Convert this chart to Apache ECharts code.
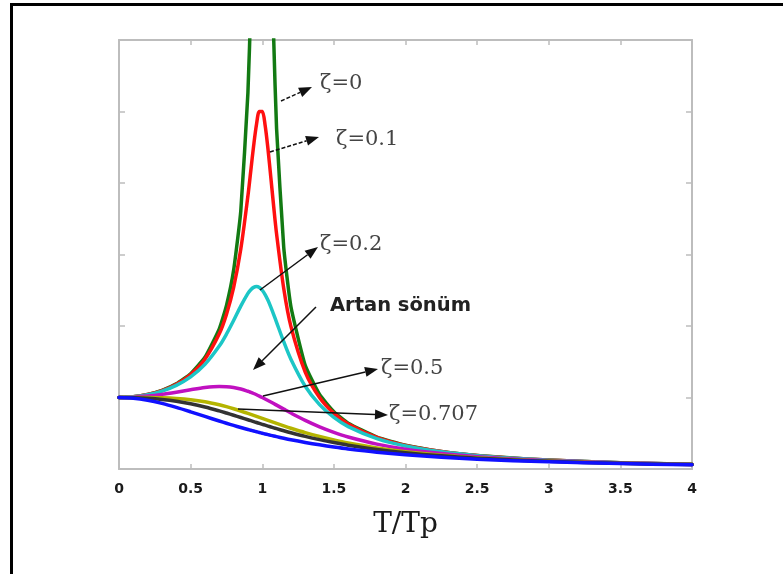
<!DOCTYPE html>
<html>
<head>
<meta charset="utf-8">
<title>T/Tp</title>
<script src="https://cdn.jsdelivr.net/npm/echarts@6/dist/echarts.min.js"></script>
<style>
  html, body { margin: 0; padding: 0; background: #fff; }
  #wrap { position: relative; width: 783px; height: 574px; overflow: hidden; }
  #frame { position: absolute; left: 10px; top: 3px; width: 800px; height: 568px;
           border-left: 3px solid #000; border-top: 3px solid #000; border-bottom: 1px solid #aaa; }
  #chart { position: absolute; left: 0; top: 0; width: 783px; height: 574px; }
</style>
</head>
<body>
<div id="wrap">
  <div id="frame"></div>
  <div id="chart"></div>
</div>
<script>
// Frequency ratio samples (denser around resonance)
const ratio = [0, 0.1, 0.2, 0.3, 0.4, 0.5, 0.6, 0.7, 0.75, 0.8, 0.85, 0.9, 0.92, 0.94, 0.96, 0.98,
  1, 1.02, 1.04, 1.06, 1.08, 1.1, 1.15, 1.2, 1.3, 1.4, 1.5, 1.6, 1.8, 2, 2.25, 2.5, 2.75, 3, 3.5, 4];

// Amplification for each damping ratio
const zeta0 = [1, 1.0101, 1.0417, 1.0989, 1.1905, 1.3333, 1.5625, 1.9608, 2.2857, 2.7778, 3.6036, 5.2632, 6.51, 8.59, 12.76, 25.25,
  null, 24.75, 12.25, 8.09, 6.01, 4.762, 3.101, 2.273, 1.449, 1.0417, 0.8, 0.641, 0.4464, 0.3333, 0.2462, 0.1905, 0.1524, 0.125, 0.0889, 0.0667];
const zeta01 = [1, 1.0099, 1.0408, 1.0965, 1.1851, 1.3216, 1.5357, 1.8908, 2.1622, 2.5384, 3.0728, 3.8208, 4.1721, 4.5225, 4.8218, 5.001,
  5.0, 4.8086, 4.4756, 4.075, 3.6675, 3.288, 2.5245, 1.9952, 1.3562, 1.0, 0.7779, 0.628, 0.4408, 0.3304, 0.2447, 0.1896, 0.1518, 0.1246, 0.0887, 0.0666];
const zeta02 = [1, 1.0093, 1.0381, 1.0895, 1.1695, 1.2883, 1.463, 1.7188, 1.8851, 2.0761, 2.2785, 2.4566, 2.5077, 2.5407, 2.5515, 2.5381,
  2.5, 2.439, 2.3589, 2.2642, 2.1601, 2.0511, 1.78, 1.5357, 1.1574, 0.8998, 0.7212, 0.5931, 0.425, 0.3221, 0.2403, 0.1871, 0.1503, 0.1236, 0.0882, 0.0663];
const zeta05 = [1, 1.005, 1.0198, 1.0436, 1.0748, 1.1094, 1.1399, 1.1546, 1.1517, 1.1399, 1.1184, 1.0871, 1.0721, 1.0558, 1.0382, 1.0196,
  1.0, 0.9796, 0.9586, 0.937, 0.9151, 0.893, 0.8373, 0.7824, 0.6795, 0.5891, 0.5121, 0.4475, 0.348, 0.2774, 0.2153, 0.172, 0.1405, 0.117, 0.0849, 0.0644];
const zeta0707 = [1, 1.0, 0.9992, 0.996, 0.9874, 0.9701, 0.9409, 0.898, 0.8716, 0.8423, 0.8106, 0.7771, 0.7633, 0.7494, 0.7354, 0.7212,
  0.7071, 0.693, 0.6789, 0.6648, 0.6509, 0.637, 0.6031, 0.5704, 0.5092, 0.4545, 0.4061, 0.3639, 0.2949, 0.2425, 0.1938, 0.158, 0.1311, 0.1104, 0.0814, 0.0624];
const zeta08 = [1, 0.9972, 0.9882, 0.972, 0.9469, 0.9119, 0.8667, 0.8126, 0.7829, 0.7521, 0.7205, 0.6885, 0.6757, 0.6629, 0.6502, 0.6376,
  0.625, 0.6126, 0.6002, 0.5881, 0.576, 0.5642, 0.5353, 0.5077, 0.4563, 0.4103, 0.3695, 0.3336, 0.2741, 0.228, 0.1842, 0.1515, 0.1266, 0.1072, 0.0796, 0.0613];
const zeta1 = [1, 0.9901, 0.9615, 0.9174, 0.8621, 0.8, 0.7353, 0.6711, 0.64, 0.6098, 0.5806, 0.5525, 0.5416, 0.5309, 0.5204, 0.5101,
  0.5, 0.4901, 0.4804, 0.4709, 0.4616, 0.4525, 0.4306, 0.4098, 0.3717, 0.3378, 0.3077, 0.2809, 0.2358, 0.2, 0.1649, 0.1379, 0.1168, 0.1, 0.0755, 0.0588];

const xTicks = ['0', '0.5', '1', '1.5', '2', '2.5', '3', '3.5', '4'];

const pairs = ys => ratio.map((x, i) => [x, ys[i]]);

const curves = [
  { name: 'ζ=0', data: zeta0, color: '#137a13', smooth: 0.15 },
  { name: 'ζ=0.1', data: zeta01, color: '#ff1010', smooth: 0.3 },
  { name: 'ζ=0.2', data: zeta02, color: '#1cc6c6', smooth: 0.3 },
  { name: 'ζ=0.5', data: zeta05, color: '#c010c0', smooth: 0.3 },
  { name: 'ζ=0.707', data: zeta0707, color: '#b4b400', smooth: 0.3 },
  { name: 'ζ=0.8', data: zeta08, color: '#333333', smooth: 0.3 },
  { name: 'ζ=1', data: zeta1, color: '#1010ff', smooth: 0.3 }
];

// Annotation arrows: from (x1, y1) to the head at (x2, y2), screen pixels
function arrow(x1, y1, x2, y2, dashed) {
  const ang = Math.atan2(y2 - y1, x2 - x1);
  const L = 13, W = 5;
  const bx = x2 - L * Math.cos(ang), by = y2 - L * Math.sin(ang);
  const px = -Math.sin(ang) * W, py = Math.cos(ang) * W;
  return [
    { type: 'line', shape: { x1, y1, x2: bx, y2: by },
      style: { stroke: '#111', lineWidth: 1.5, lineDash: dashed ? [4, 2] : null }, z: 50 },
    { type: 'polygon', shape: { points: [[x2, y2], [bx + px, by + py], [bx - px, by - py]] },
      style: { fill: '#111' }, z: 50 }
  ];
}

function label(text, x, y, opts) {
  return { type: 'text', x, y, z: 50,
    style: Object.assign({ text, fill: '#444', font: '21px "DejaVu Serif", serif', verticalAlign: 'middle' }, opts || {}) };
}

const graphics = [].concat(
  arrow(281, 101, 312, 87, true),
  arrow(270, 152, 319, 137, true),
  arrow(260, 290, 318, 247, false),
  arrow(316, 307, 253, 370, false),
  arrow(263, 396, 378, 369, false),
  arrow(238, 409, 388, 415, false),
  [
    label('ζ=0', 320, 84),
    label('ζ=0.1', 336, 140),
    label('ζ=0.2', 320, 245),
    label('Artan sönüm', 330, 306, { fill: '#222', font: 'bold 19.5px "DejaVu Sans", sans-serif' }),
    label('ζ=0.5', 381, 369),
    label('ζ=0.707', 389, 415)
  ]
);

const axisGray = '#bdbdbd';
const tickStyle = len => ({ show: true, inside: true, length: len, lineStyle: { color: axisGray, width: 1.5 } });
const lineStyle = { show: true, onZero: false, lineStyle: { color: axisGray, width: 2 } };

const chart = echarts.init(document.getElementById('chart'), null, { renderer: 'canvas' });
chart.setOption({
  animation: false,
  backgroundColor: 'transparent',
  grid: { left: 119, right: 91, top: 40, bottom: 105, containLabel: false },
  xAxis: [
    {
      type: 'value', min: 0, max: 4, interval: 0.5, position: 'bottom',
      name: 'T/Tp', nameLocation: 'middle', nameGap: 42,
      nameTextStyle: { fontFamily: '"DejaVu Serif", serif', fontSize: 28, color: '#1a1a1a' },
      axisLine: lineStyle,
      axisTick: tickStyle(5),
      axisLabel: { margin: 13, color: '#1a1a1a', fontWeight: 'bold', fontSize: 14,
        fontFamily: '"DejaVu Sans", sans-serif',
        formatter: v => xTicks[Math.round(v / 0.5)] },
      splitLine: { show: false }
    },
    {
      type: 'value', min: 0, max: 4, interval: 0.5, position: 'top',
      axisLine: lineStyle, axisTick: tickStyle(5),
      axisLabel: { show: false }, splitLine: { show: false }
    }
  ],
  yAxis: [
    {
      type: 'value', min: 0, max: 6, interval: 1, position: 'left',
      axisLine: lineStyle, axisTick: tickStyle(6),
      axisLabel: { show: false }, splitLine: { show: false }
    },
    {
      type: 'value', min: 0, max: 6, interval: 1, position: 'right',
      axisLine: lineStyle, axisTick: tickStyle(6),
      axisLabel: { show: false }, splitLine: { show: false }
    }
  ],
  series: curves.map(c => ({
    name: c.name, type: 'line', data: pairs(c.data), smooth: c.smooth,
    showSymbol: false, symbol: 'none', clip: true, connectNulls: false,
    lineStyle: { color: c.color, width: 3.5, join: 'round', cap: 'round' }, itemStyle: { color: c.color }
  })),
  graphic: graphics
});
</script>
</body>
</html>
